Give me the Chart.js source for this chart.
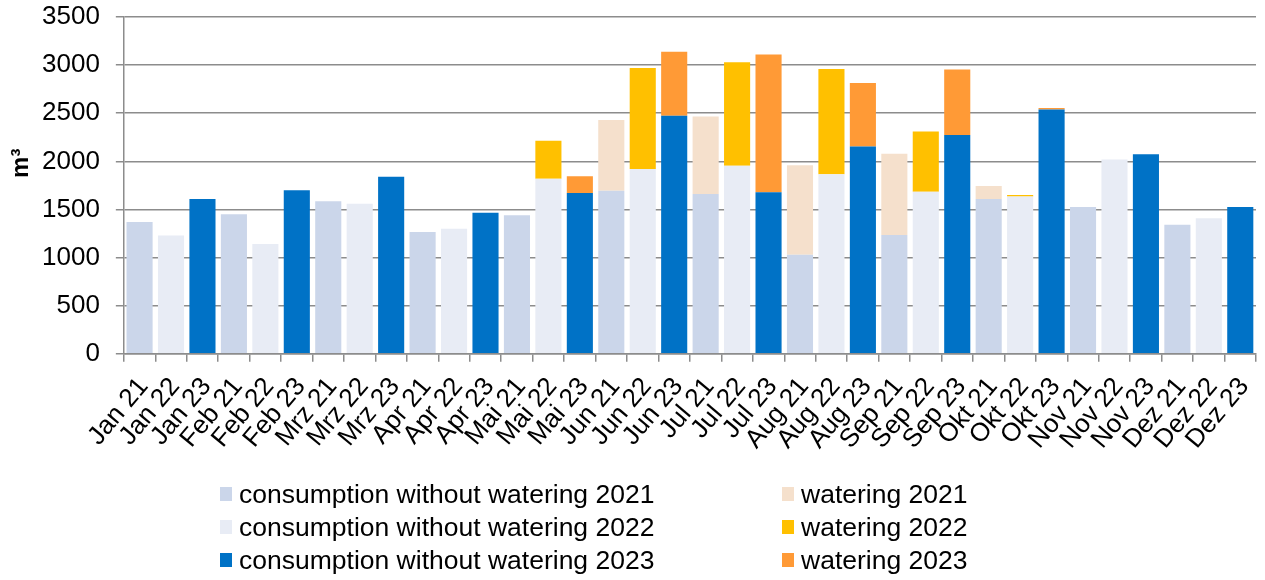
<!DOCTYPE html>
<html>
<head>
<meta charset="utf-8">
<script src="https://cdn.jsdelivr.net/npm/chart.js@4"></script>
<style>
    body { margin: 0; background: #fff; }
    #wrap { position: relative; width: 1265px; height: 580px; }
    #legend { position: absolute; left: 0; top: 478px; width: 1265px; font-family: "Liberation Sans", Arial, sans-serif; font-size: 26.5px; color: #000; }
    .item { position: absolute; display: flex; align-items: center; height: 32px; white-space: nowrap; }
    .box { width: 12px; height: 14px; margin-right: 7px; }
</style>
</head>
<body>
<div id="wrap">
    <canvas id="chartWasser" width="1265" height="580"></canvas>
    <div id="legend"></div>
</div>
<script>
// Monatswerte in m³, Jan..Dez
const months = ['Jan', 'Feb', 'Mrz', 'Apr', 'Mai', 'Jun', 'Jul', 'Aug', 'Sep', 'Okt', 'Nov', 'Dez'];
const years = ['21', '22', '23'];

const cons2021 = [1370, 1450, 1585, 1265, 1440, 1695, 1660, 1030, 1235, 1610, 1525, 1340];
const cons2022 = [1230, 1140, 1560, 1300, 1820, 1920, 1955, 1865, 1685, 1635, 2020, 1410];
const cons2023 = [1610, 1700, 1840, 1465, 1670, 2475, 1680, 2155, 2275, 2540, 2075, 1525];
const water2021 = [0, 0, 0, 0, 0, 735, 805, 930, 845, 135, 0, 0];
const water2022 = [0, 0, 0, 0, 395, 1050, 1075, 1095, 625, 15, 0, 0];
const water2023 = [0, 0, 0, 0, 175, 665, 1430, 660, 680, 15, 0, 0];

const yTicks = [0, 500, 1000, 1500, 2000, 2500, 3000, 3500];

// labels "Jan 21", "Jan 22", "Jan 23", "Feb 21", ...
const labels = [];
months.forEach(function(m) {
    years.forEach(function(y) { labels.push(m + ' ' + y); });
});

// put a yearly series into its slot (month*3 + year)
function slot(values, yearIdx) {
    const out = new Array(36).fill(null);
    values.forEach(function(v, i) { out[i * 3 + yearIdx] = v; });
    return out;
}

const series = [
    { label: 'consumption without watering 2021', data: slot(cons2021, 0), color: '#cbd6ea' },
    { label: 'consumption without watering 2022', data: slot(cons2022, 1), color: '#e8ecf5' },
    { label: 'consumption without watering 2023', data: slot(cons2023, 2), color: '#0072c6' },
    { label: 'watering 2021', data: slot(water2021, 0), color: '#f5e0cc' },
    { label: 'watering 2022', data: slot(water2022, 1), color: '#ffc000' },
    { label: 'watering 2023', data: slot(water2023, 2), color: '#ff9a36' }
];

const fontFamily = '"Liberation Sans", Arial, sans-serif';
const font = { family: fontFamily, size: 26 };

// y axis title "m³", drawn a bit above the middle like in the original
const unitTitle = {
    id: 'unitTitle',
    afterDraw: function(chart) {
        const c = chart.ctx;
        const y = chart.scales.y.getPixelForValue(1980);
        c.save();
        c.translate(21, y);
        c.rotate(-Math.PI / 2);
        c.font = 'bold 24px ' + fontFamily;
        c.fillStyle = '#000';
        c.textAlign = 'center';
        c.textBaseline = 'middle';
        c.fillText('m³', 0, 0);
        c.restore();
    }
};

const ctx = document.getElementById('chartWasser');
const chart = new Chart(ctx, {
    type: 'bar',
    data: {
        labels: labels,
        datasets: series.map(function(s) {
            return {
                label: s.label,
                data: s.data,
                backgroundColor: s.color,
                borderWidth: 0,
                categoryPercentage: 1,
                barPercentage: 0.83
            };
        })
    },
    options: {
        responsive: false,
        animation: false,
        layout: { padding: { left: 26, top: 17, right: 9, bottom: 115 } },
        plugins: {
            legend: { display: false },
            tooltip: { enabled: false }
        },
        scales: {
            x: {
                stacked: true,
                afterFit: function(axis) {
                    axis.paddingLeft = 0;
                    axis.paddingRight = 0;
                },
                grid: { offset: true, drawOnChartArea: false, color: '#8c8c8c', lineWidth: 1.5, tickLength: 8 },
                border: { color: '#8c8c8c', width: 1.5 },
                ticks: { color: '#000', font: font, minRotation: 50, maxRotation: 50, autoSkip: false, padding: 10, labelOffset: 4 }
            },
            y: {
                stacked: true,
                min: 0,
                max: 3500,
                afterBuildTicks: function(axis) {
                    axis.ticks = yTicks.map(function(v) { return { value: v }; });
                },
                afterFit: function(axis) {
                    axis.paddingTop = 0;
                    axis.paddingBottom = 0;
                },
                grid: { color: '#8c8c8c', lineWidth: 1.5, tickLength: 8 },
                border: { color: '#8c8c8c', width: 1.5 },
                ticks: { color: '#000', font: font, padding: 16, callback: function(v) { return String(v); } }
            }
        }
    },
    plugins: [unitTitle]
});

// legend in two columns like the original
const legendPos = [
    [220, 0], [220, 33], [220, 66],
    [782, 0], [782, 33], [782, 66]
];
const legend = document.getElementById('legend');
series.forEach(function(s, i) {
    const item = document.createElement('div');
    item.className = 'item';
    item.style.left = legendPos[i][0] + 'px';
    item.style.top = legendPos[i][1] + 'px';
    item.innerHTML = '<span class="box" style="background:' + s.color + '"></span>' + s.label;
    legend.appendChild(item);
});
</script>
</body>
</html>
